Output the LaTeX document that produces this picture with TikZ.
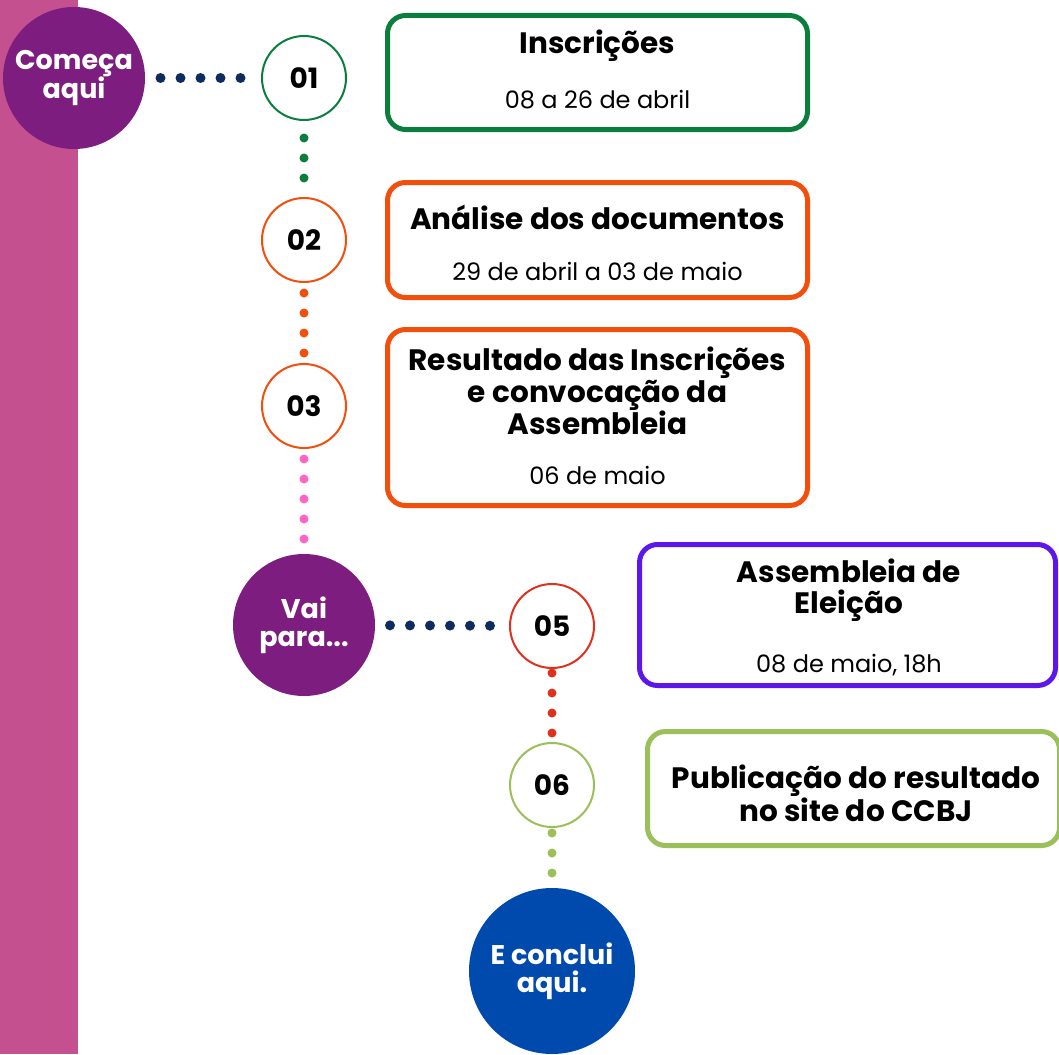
\documentclass[tikz,border=0pt]{standalone}
\usepackage{fontspec}
\setmainfont{Poppins}
\usetikzlibrary{calc}

\definecolor{leiste}{HTML}{C4508F}
\definecolor{lila}{HTML}{7D1D80}
\definecolor{marine}{HTML}{0F2C5F}
\definecolor{verde}{HTML}{0B7E3E}
\definecolor{laranja}{HTML}{F24E0C}
\definecolor{rosa}{HTML}{FF66C4}
\definecolor{vermelho}{HTML}{E0301E}
\definecolor{lima}{HTML}{9BBF59}
\definecolor{violeta}{HTML}{5E17EB}
\definecolor{azul}{HTML}{004AAD}

\begin{document}
\begin{tikzpicture}[x=1pt,y=-1pt,
	marke/.style={circle,inner sep=0pt,outer sep=0pt,minimum size=142pt,text=white,align=center,font=\bfseries\fontsize{27}{28}\selectfont},
	etappe/.style={circle,draw,line width=2pt,fill=white,minimum size=84pt,inner sep=0pt,outer sep=0pt,font=\bfseries\fontsize{28}{28}\selectfont},
	kasten/.style={rectangle,rounded corners=18pt,draw,line width=5pt,minimum width=420pt,inner sep=0pt,outer sep=0pt},
	titel/.style={align=center,font=\bfseries\fontsize{29.5}{31.5}\selectfont},
	datum/.style={font=\fontsize{24}{26}\selectfont},
	punkte/.style={line width=9pt,line cap=round,dash pattern=on 0pt off 20pt}] % Zeitplan
	\useasboundingbox (0,0) rectangle (1059,1054);
	\fill[leiste] (0,0) rectangle (78,1054);

	\node[marke,fill=lila] (start) at (74,78) {Começa\\aqui};
	\node[marke,fill=lila] (vai) at (304,625) {Vai\\para...};
	\node[marke,fill=azul,minimum size=166pt] (fim) at (552,971) {E conclui\\aqui.};

	\node[etappe,draw=verde] (e1) at (304,78) {01};
	\node[etappe,draw=laranja] (e2) at (304,240) {02};
	\node[etappe,draw=laranja] (e3) at (304,406) {03};
	\node[etappe,draw=vermelho] (e5) at (552,626) {05};
	\node[etappe,draw=lima] (e6) at (552,785) {06};

	\draw[punkte,marine,line width=10pt,shorten <=15.5pt,shorten >=20.5pt] (start) -- (e1);
	\draw[punkte,verde,shorten <=18pt,shorten >=19.5pt] (e1) -- (e2);
	\draw[punkte,laranja,shorten <=11pt,shorten >=10.5pt] (e2) -- (e3);
	\draw[punkte,rosa,shorten <=11pt,shorten >=14.5pt] (e3) -- (vai);
	\draw[punkte,marine,line width=10pt,shorten <=15pt,shorten >=19.5pt] (vai) -- (e5);
	\draw[punkte,vermelho,shorten <=5pt,shorten >=9.5pt] (e5) -- (e6);
	\draw[punkte,lima,shorten <=6pt,shorten >=14.5pt] (e6) -- (fim);

	\node[kasten,draw=verde,minimum height=114pt] (k1) at (597.5,72.5) {};
	\node[titel] (t1) at (597.5,46) {Inscrições};
	\node[datum] (d1) at (597.5,100) {08 a 26 de abril};

	\node[kasten,draw=laranja,minimum height=115pt] (k2) at (597.5,240) {};
	\node[titel] (t2) at (597.5,217) {Análise dos documentos};
	\node[datum] (d2) at (597.5,271) {29 de abril a 03 de maio};

	\node[kasten,draw=laranja,minimum height=176pt] (k3) at (597.5,417.5) {};
	\node[titel] (t3) at (597.5,391) {Resultado das Inscrições\\e convocação da\\Assembleia};
	\node[datum] (d3) at (597.5,475) {06 de maio};

	\node[kasten,draw=violeta,minimum width=416pt,minimum height=141pt] (k4) at (847.5,615) {};
	\node[titel] (t4) at (849,590) {Assembleia de\\Eleição};
	\node[datum] (d4) at (849,665) {08 de maio, 18h};

	\node[kasten,draw=lima,minimum width=412pt,minimum height=114pt] (k5) at (853.5,788.5) {};
	\node[titel] (t5) at (856,793) {Publicação do resultado\\no site do CCBJ};
\end{tikzpicture}
\end{document}
